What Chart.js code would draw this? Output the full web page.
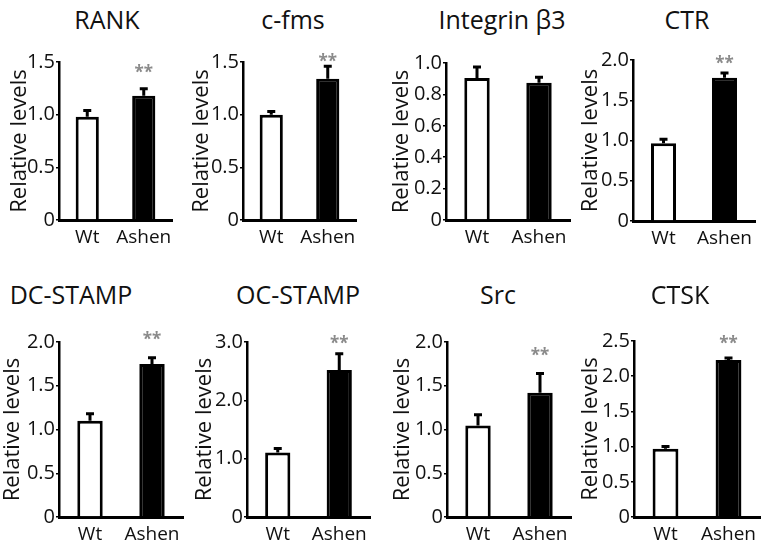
<!DOCTYPE html>
<html>
<head>
<meta charset="utf-8">
<script src="https://cdn.jsdelivr.net/npm/chart.js@4"></script>
<style>
  html, body { margin: 0; padding: 0; background: #fff; }
  #wrap { position: relative; width: 765px; height: 547px; overflow: hidden; }
  #wrap canvas { position: absolute; }
  .ttl { position: absolute; font-family: 'Open Sans', sans-serif; font-size: 25px; color: #111; white-space: nowrap; transform: translate(-50%, -50%); }
</style>
</head>
<body>
<div id="wrap"></div>
<script>
  const genes = ['RANK', 'c-fms', 'Integrin β3', 'CTR', 'DC-STAMP', 'OC-STAMP', 'Src', 'CTSK'];
  const groups = ['Wt', 'Ashen'];
  const wtMean = [0.98, 1.00, 0.905, 0.965, 1.10, 1.105, 1.045, 0.97];
  const wtErr = [0.06, 0.03, 0.07, 0.05, 0.08, 0.07, 0.125, 0.03];
  const ashenMean = [1.18, 1.34, 0.875, 1.78, 1.75, 2.52, 1.42, 2.23];
  const ashenErr = [0.065, 0.12, 0.035, 0.06, 0.07, 0.28, 0.22, 0.03];
  const yMax = [1.5, 1.5, 1.0, 2.0, 2.0, 3.0, 2.0, 2.5];
  const yStep = [0.5, 0.5, 0.2, 0.5, 0.5, 1.0, 0.5, 0.5];
  const starLevel = [1.42, 1.53, null, 1.99, 2.05, 3.02, 1.875, 2.5];

  // panel geometry: y-axis x, x-axis end, plot top, zero line, y-title distance, title centre
  const panels = [
    { ax: 59, xe: 172, top: 61, zero: 220, td: 39, tx: 107, ty: 19 },
    { ax: 243, xe: 356, top: 61, zero: 220, td: 41, tx: 293, ty: 19 },
    { ax: 446, xe: 570, top: 62, zero: 220, td: 44, tx: 502, ty: 19 },
    { ax: 633, xe: 755, top: 59, zero: 221, td: 42, tx: 687, ty: 19 },
    { ax: 59, xe: 183, top: 341, zero: 517, td: 46, tx: 71, ty: 294 },
    { ax: 247, xe: 370, top: 341, zero: 517, td: 42, tx: 298, ty: 294 },
    { ax: 447, xe: 571, top: 341, zero: 517, td: 44, tx: 498, ty: 294 },
    { ax: 634, xe: 760, top: 340, zero: 517, td: 43, tx: 680, ty: 294 }
  ];

  Chart.defaults.font.family = "'Open Sans', sans-serif";
  Chart.defaults.color = '#111';

  const AXIS_W = 60, PAD_TOP = 12, X_H = 30, PAD_BOT = 2;
  const YT_SIZE = 22;

  const errorBars = {
    id: 'errorBars',
    afterDatasetsDraw(chart, args, opts) {
      const { ctx, scales: { y } } = chart;
      const bars = chart.getDatasetMeta(0).data;
      ctx.save();
      ctx.strokeStyle = '#000';
      ctx.lineWidth = 3;
      bars.forEach((bar, i) => {
        const top = y.getPixelForValue(opts.means[i] + opts.errs[i]);
        ctx.beginPath();
        ctx.moveTo(bar.x, bar.y);
        ctx.lineTo(bar.x, top);
        ctx.moveTo(bar.x - 4, top);
        ctx.lineTo(bar.x + 4, top);
        ctx.stroke();
      });
      if (opts.star != null) {
        const b = bars[1];
        ctx.fillStyle = '#8a8a8a';
        ctx.font = "bold 17px 'Open Sans', sans-serif";
        ctx.textAlign = 'center';
        ctx.textBaseline = 'middle';
        ctx.fillText('**', b.x, y.getPixelForValue(opts.star) + 3);
      }
      ctx.restore();
    }
  };

  const wrap = document.getElementById('wrap');

  genes.forEach((gene, i) => {
    const p = panels[i];
    const left = p.ax - AXIS_W;
    const right = Math.min(p.xe + 10, 765);
    const topC = p.top - PAD_TOP;
    const w = right - left;
    const h = p.zero - topC + X_H + PAD_BOT;

    const t = document.createElement('div');
    t.className = 'ttl';
    t.textContent = gene;
    t.style.left = p.tx + 'px';
    t.style.top = p.ty + 'px';
    wrap.appendChild(t);

    const c = document.createElement('canvas');
    c.width = w; c.height = h;
    c.style.left = left + 'px';
    c.style.top = topC + 'px';
    c.style.width = w + 'px';
    c.style.height = h + 'px';
    wrap.appendChild(c);

    const means = [wtMean[i], ashenMean[i]];
    const errs = [wtErr[i], ashenErr[i]];

    new Chart(c, {
      type: 'bar',
      data: {
        labels: groups,
        datasets: [{
          data: means,
          backgroundColor: ['#fff', '#000'],
          borderColor: '#000',
          borderWidth: 3,
          barPercentage: 0.82,
          categoryPercentage: 0.5
        }]
      },
      options: {
        responsive: false,
        animation: false,
        events: [],
        layout: { padding: { top: PAD_TOP, left: 0, right: right - p.xe, bottom: PAD_BOT } },
        plugins: {
          legend: { display: false },
          tooltip: { enabled: false },
          errorBars: { means, errs, star: starLevel[i] }
        },
        scales: {
          x: {
            grid: { display: false, drawTicks: false },
            border: { display: true, color: '#000', width: 3 },
            ticks: { font: { size: 19 }, padding: 6, color: '#111', autoSkip: false, maxRotation: 0, minRotation: 0 },
            afterFit: s => { s.height = X_H; }
          },
          y: {
            min: 0,
            max: yMax[i],
            grid: { display: true, drawOnChartArea: false, tickLength: 3, color: '#000', lineWidth: 1.5 },
            border: { display: true, color: '#000', width: 2.5 },
            ticks: {
              stepSize: yStep[i],
              padding: 1,
              font: { size: 20 },
              color: '#111',
              callback: v => v === 0 ? '0' : Number(v).toFixed(1)
            },
            title: {
              display: true,
              text: 'Relative levels',
              font: { size: YT_SIZE },
              color: '#111',
              padding: { top: AXIS_W - p.td - YT_SIZE * 0.6, bottom: 0 }
            },
            afterFit: s => { s.width = AXIS_W; }
          }
        }
      },
      plugins: [errorBars]
    });
  });
</script>
</body>
</html>
